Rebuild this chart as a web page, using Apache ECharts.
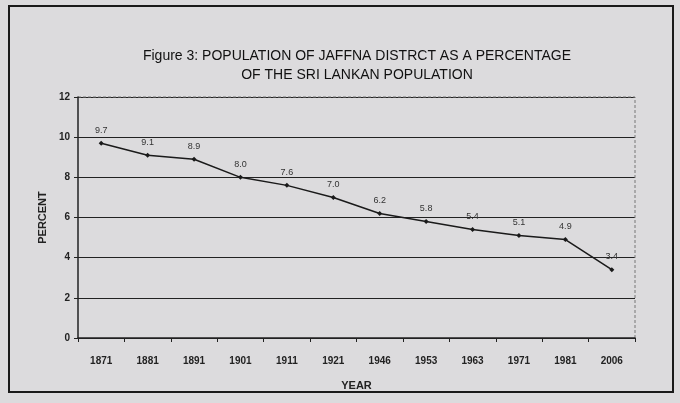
<html>
<head>
    <meta http-equiv="Content-Type" content="text/html; charset=utf-8">
    <script src="https://cdn.jsdelivr.net/npm/echarts@6/dist/echarts.min.js"></script>
    <style>
        * {
            margin: 0;
            padding: 0;
        }

        body {
            background: #dcdbdd;
        }

        #main {
            width: 680px;
            height: 403px;
        }
    </style>
</head>
<body>
<div id="main"></div>
<script type="text/javascript">
    // 年份和百分比
    let years = ['1871', '1881', '1891', '1901', '1911', '1921', '1946', '1953', '1963', '1971', '1981', '2006'];
    let percents = [9.7, 9.1, 8.9, 8.0, 7.6, 7.0, 6.2, 5.8, 5.4, 5.1, 4.9, 3.4];
    let yTicks = [0, 2, 4, 6, 8, 10, 12];

    let myChart = echarts.init(document.getElementById('main'));

    let option = {
        backgroundColor: '#dcdbdd',
        textStyle: {
            fontFamily: 'Liberation Sans, Arial, sans-serif',
            color: '#222'
        },
        title: {
            text: 'Figure 3: POPULATION OF JAFFNA DISTRCT AS A PERCENTAGE\nOF THE SRI LANKAN POPULATION',
            left: 352,
            top: 42,
            textAlign: 'center',
            textStyle: {
                fontSize: 14,
                fontWeight: 500,
                lineHeight: 19,
                color: '#111'
            }
        },
        grid: {
            left: 78,
            top: 97,
            right: 45,
            bottom: 65
        },
        xAxis: {
            type: 'category',
            data: years,
            boundaryGap: true,
            name: 'YEAR',
            nameLocation: 'middle',
            nameGap: 42,
            nameTextStyle: {fontSize: 11, fontWeight: 'bold', color: '#222'},
            axisLine: {lineStyle: {color: '#222', width: 1.5}},
            axisTick: {show: true, length: 4, lineStyle: {color: '#222'}},
            axisLabel: {fontSize: 10, fontWeight: 'bold', color: '#222', margin: 18}
        },
        yAxis: {
            type: 'value',
            min: yTicks[0],
            max: yTicks[yTicks.length - 1],
            interval: 2,
            name: 'PERCENT',
            nameLocation: 'middle',
            nameGap: 28,
            nameTextStyle: {fontSize: 11, fontWeight: 'bold', color: '#222'},
            axisLine: {show: true, lineStyle: {color: '#222', width: 1.5}},
            axisTick: {show: true, length: 4, lineStyle: {color: '#222'}},
            axisLabel: {fontSize: 10, fontWeight: 'bold', color: '#222', margin: 8},
            splitLine: {
                show: true,
                lineStyle: {color: '#222', width: 1.2}
            }
        },
        series: [
            {
                name: 'PERCENT',
                type: 'line',
                data: percents,
                symbol: 'diamond',
                symbolSize: 5,
                itemStyle: {color: '#1a1a1a'},
                lineStyle: {color: '#1a1a1a', width: 1.5},
                label: {
                    show: true,
                    position: 'top',
                    distance: 6,
                    fontSize: 9,
                    color: '#333',
                    formatter: function (p) {
                        return p.value.toFixed(1);
                    }
                }
            }
        ]
    };

    myChart.setOption(option);

    // 外框，再加上图区的上边和右边细灰线
    let rect = myChart.getModel().getComponent('grid').coordinateSystem.getRect();
    myChart.setOption({
        graphic: [
            {
                type: 'rect',
                shape: {x: 9, y: 6, width: 664, height: 386},
                style: {fill: 'none', stroke: '#1a1a1a', lineWidth: 2}
            },
            {
                type: 'polyline',
                shape: {points: [[rect.x, rect.y], [rect.x + rect.width, rect.y], [rect.x + rect.width, rect.y + rect.height]]},
                style: {fill: 'none', stroke: '#777', lineWidth: 1, lineDash: [3, 2]}
            }
        ]
    });
</script>
</body>
</html>
